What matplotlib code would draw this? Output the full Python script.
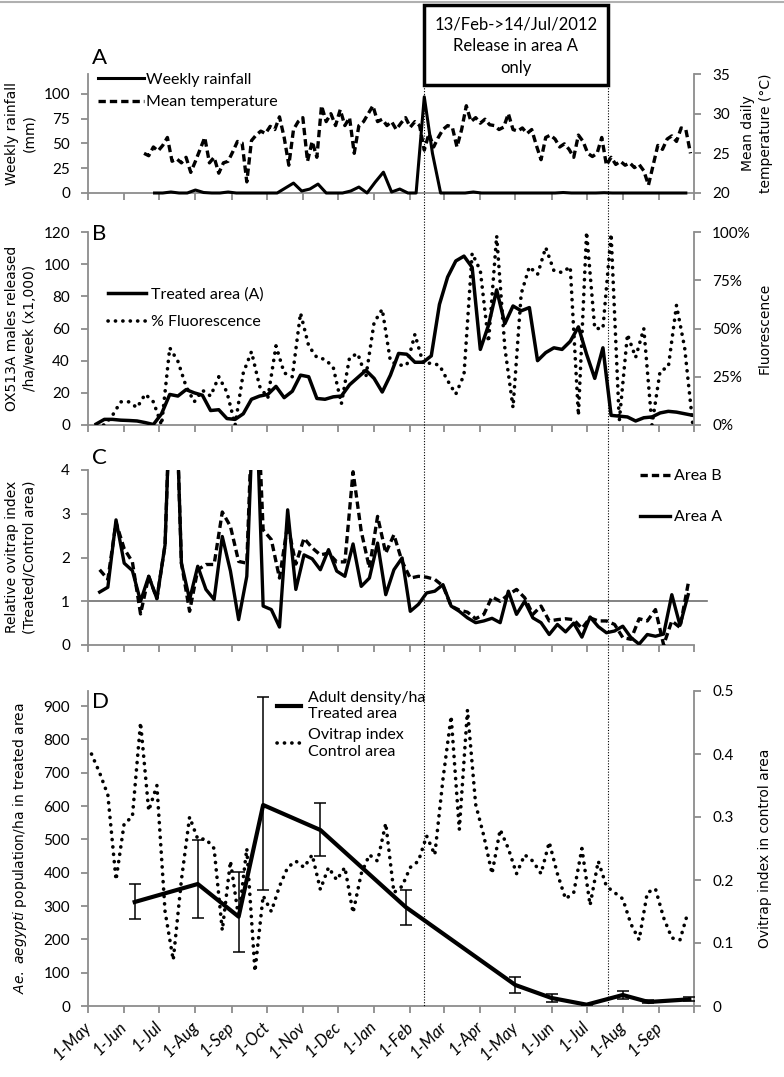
import numpy as np
import pandas as pd
import matplotlib
matplotlib.use('Agg')
import matplotlib.pyplot as plt
import matplotlib.dates as mdates
from matplotlib import transforms, font_manager
from matplotlib.lines import Line2D
from matplotlib.patches import Rectangle
from matplotlib.ticker import FixedLocator, FixedFormatter

# ---------------- data ----------------
month_ticks = pd.date_range('2011-05-01', '2012-10-01', freq='MS')
month_labels = ['1-May', '1-Jun', '1-Jul', '1-Aug', '1-Sep', '1-Oct', '1-Nov', '1-Dec', '1-Jan',
                '1-Feb', '1-Mar', '1-Apr', '1-May', '1-Jun', '1-Jul', '1-Aug', '1-Sep', '']

# A: weekly rainfall (mm) from 27 Jun 2011
rain_start = '2011-06-27'
rainfall = [0, 0, 1, 0, 0, 3, 0.5, 0, 0, 1, 0, 0, 0, 0, 0, 0, 5, 10, 2, 4,
            9, 0, 0, 0, 2, 6, 0, 11, 21, 1, 4, 0, 0, 97, 40, 0, 0, 0, 0, 1,
            0, 0, 0, 0, 0, 0, 0, 0, 0, 0, 0.5, 0, 0, 0, 0, 0.3, 0, 0, 0, 0,
            0, 0, 0, 0, 0, 0]

# A: mean daily temperature (C), read every 4 days from 18 Jun 2011
temp_start = '2011-06-18'
temperature = [25.0, 24.7, 25.8, 25.3, 26.0, 27.0, 24.0, 24.3, 23.8, 24.5,
               22.6, 24.0, 25.5, 27.0, 23.8, 24.5, 22.5, 23.8, 24.0, 25.2,
               26.5, 26.3, 21.4, 26.6, 27.3, 27.8, 27.5, 28.4, 28.0, 29.6,
               27.0, 23.5, 28.0, 29.0, 29.5, 24.0, 26.5, 24.5, 31.0, 29.0,
               30.0, 28.5, 30.5, 28.5, 29.5, 25.0, 28.5, 29.0, 30.0, 31.0,
               29.0, 29.3, 28.5, 29.0, 28.0, 28.8, 29.5, 28.3, 29.0, 28.5,
               25.4, 27.5, 25.8, 27.0, 28.0, 28.5, 28.3, 25.8, 28.0, 31.0,
               29.0, 29.5, 28.8, 29.3, 28.6, 28.5, 28.0, 28.3, 30.0, 28.0,
               27.8, 28.2, 27.5, 28.0, 26.0, 24.2, 27.0, 27.3, 26.8, 25.8,
               26.2, 25.5, 24.5, 27.3, 26.5, 25.0, 24.6, 25.0, 27.0, 23.5,
               24.5, 23.6, 24.0, 23.5, 23.8, 23.2, 23.6, 22.8, 21.0, 23.5,
               26.0, 25.5, 26.8, 27.2, 26.5, 28.2, 28.0, 25.0]

# B: weekly releases (x1000 /ha) and % fluorescence, from 8 May 2011
rel_start = '2011-05-08'
released = [0.6, 3.5, 3.5, 3.0, 2.8, 2.5, 1.5, 0.3, 7, 19,
            18, 22, 20, 18.5, 9, 9.5, 4, 3.5, 7, 16,
            18, 19, 24, 17, 21, 31, 30, 16.5, 16, 17.5,
            18, 25, 29.5, 34, 29, 20.5, 31, 44.5, 44, 39,
            39, 43, 75, 92, 102, 105, 98, 47, 62, 84,
            63, 74, 71, 73, 40, 45, 48, 47, 52, 61,
            44, 29, 48, 6, 5.5, 5, 2.5, 4.5, 5, 7.5,
            8.5, 8, 7, 6]
fluorescence = [0, 0, 5, 12, 12, 9, 16, 12, 0, 40,
                33, 20, 12, 18, 15, 25, 17, 0, 27, 38,
                20, 14, 41, 27, 25, 58, 41, 35, 34, 30,
                11, 35, 37, 25, 53, 60, 33, 31, 31, 47,
                32, 32, 31, 23, 16, 26, 89, 80, 43, 98,
                40, 9, 68, 82, 78, 92, 80, 79, 82, 5,
                100, 50, 50, 99, 2, 47, 35, 50, 0, 28,
                30, 62, 40, 0]

# C: relative ovitrap index, weekly from 11 May 2011
ovi_start = '2011-05-11'
area_a = [1.21, 1.32, 2.86, 1.87, 1.70, 1.0, 1.57, 1.06, 2.29, 7.8,
          1.87, 1.04, 1.80, 1.27, 1.04, 2.48, 1.69, 0.58, 1.57, 6.5,
          0.89, 0.81, 0.41, 3.09, 1.27, 2.06, 1.97, 1.72, 2.18, 1.69,
          1.57, 2.31, 1.34, 1.53, 2.33, 1.15, 1.72, 1.99, 0.77, 0.93,
          1.19, 1.23, 1.38, 0.89, 0.77, 0.62, 0.51, 0.55, 0.61, 0.51,
          1.23, 0.70, 1.0, 0.62, 0.51, 0.24, 0.47, 0.30, 0.50, 0.18,
          0.64, 0.42, 0.28, 0.32, 0.43, 0.17, 0.02, 0.24, 0.20, 0.25,
          1.15, 0.45, 1.15]
area_b = [1.72, 1.50, 2.80, 2.20, 1.90, 0.71, 1.57, 1.06, 2.29, 7.8,
          1.87, 0.77, 1.72, 1.84, 1.84, 3.04, 2.71, 1.91, 1.87, 7.0,
          2.63, 2.41, 1.53, 2.75, 1.85, 2.44, 2.22, 2.06, 2.10, 1.90,
          1.90, 3.96, 2.60, 1.76, 2.94, 2.10, 2.52, 1.91, 1.53, 1.57,
          1.55, 1.50, 1.35, 0.89, 0.80, 0.75, 0.60, 0.70, 1.10, 1.0,
          1.15, 1.27, 1.08, 0.70, 0.89, 0.55, 0.58, 0.60, 0.58, 0.38,
          0.62, 0.55, 0.55, 0.47, 0.17, 0.13, 0.60, 0.55, 0.81, 0.0,
          0.55, 0.40, 1.40]

# D: adult density /ha in treated area with error bars
adult_dates = ['2011-06-10', '2011-08-03', '2011-09-07', '2011-09-28', '2011-11-16', '2012-01-28',
               '2012-05-01', '2012-06-01', '2012-07-01', '2012-08-01', '2012-08-23', '2012-09-27']
adult = [312, 366, 268, 603, 528, 297, 63, 24, 4, 33, 12, 20]
adult_low = [262, 264, 162, 348, 450, 243, 40, 12, 2, 22, 8, 14]
adult_high = [366, 498, 402, 928, 610, 348, 87, 36, 7, 45, 17, 26]

# D: ovitrap index in control area, weekly from 4 May 2011
ctrl_start = '2011-05-04'
ctrl_index = [0.40, 0.37, 0.335, 0.20, 0.29, 0.30, 0.45, 0.31, 0.35, 0.15,
              0.073, 0.20, 0.30, 0.265, 0.265, 0.25, 0.12, 0.23, 0.14, 0.25,
              0.055, 0.175, 0.15, 0.19, 0.22, 0.23, 0.22, 0.24, 0.185, 0.22,
              0.20, 0.22, 0.148, 0.21, 0.24, 0.23, 0.29, 0.18, 0.19, 0.22,
              0.23, 0.27, 0.24, 0.36, 0.46, 0.28, 0.47, 0.32, 0.27, 0.21,
              0.28, 0.25, 0.21, 0.24, 0.23, 0.21, 0.26, 0.21, 0.17, 0.18,
              0.25, 0.16, 0.23, 0.19, 0.18, 0.17, 0.13, 0.105, 0.18, 0.186,
              0.14, 0.108, 0.105, 0.15]

# release period markers (where the lines sit on the figure) and box text
release_lines = ['2012-02-13', '2012-07-19']
box_text = '13/Feb->14/Jul/2012\nRelease in area A\nonly'

# ---------------- figure ----------------
have = {f.name for f in font_manager.fontManager.ttflist}
main_font = 'Lato' if 'Lato' in have else 'DejaVu Sans'
plt.rcParams['font.family'] = [main_font, 'DejaVu Sans']
label_font = 'DejaVu Sans'

W, H = 784, 1077
fig = plt.figure(figsize=(W / 100, H / 100), dpi=100)
grey = '#8c8c8c'


def px_axes(x0, y0, x1, y1):
    return fig.add_axes([x0 / W, 1 - y1 / H, (x1 - x0) / W, (y1 - y0) / H])


def style(ax, xlabels=False):
    ax.set_xlim(pd.Timestamp('2011-05-01'), pd.Timestamp('2012-10-01'))
    ax.xaxis.set_major_locator(FixedLocator(mdates.date2num(month_ticks)))
    ax.xaxis.set_major_formatter(FixedFormatter(month_labels))
    ax.spines['top'].set_visible(False)
    ax.spines['right'].set_visible(False)
    for s in ['left', 'bottom']:
        ax.spines[s].set_color(grey)
        ax.spines[s].set_linewidth(1.3)
    ax.tick_params(axis='both', direction='out', length=5, width=1.3, color=grey,
                   labelsize=11, pad=8)
    if not xlabels:
        ax.tick_params(axis='x', labelbottom=False)
    ax.patch.set_alpha(0)


def style_right(tw):
    for s in ['top', 'left', 'bottom']:
        tw.spines[s].set_visible(False)
    tw.spines['right'].set_color(grey)
    tw.spines['right'].set_linewidth(1.3)
    tw.tick_params(axis='y', direction='out', length=5, width=1.3, color=grey,
                   labelsize=11, pad=8)


dash = (0, (2.2, 1.2))
dots = (0, (0.05, 2.0))

# ---- A ----
axA = px_axes(88, 74, 694, 193)
style(axA)
rain_x = pd.date_range(rain_start, periods=len(rainfall), freq='7D')
temp_x = pd.date_range(temp_start, periods=len(temperature), freq='4D')
axA.set_ylim(0, 120)
axA.set_yticks([0, 25, 50, 75, 100])
l_rain, = axA.plot(rain_x, rainfall, color='black', lw=2.2, clip_on=False, zorder=3)
twA = axA.twinx()
style_right(twA)
twA.set_ylim(20, 35)
twA.set_yticks([20, 25, 30, 35])
l_temp, = twA.plot(temp_x, temperature, color='black', lw=2.4, ls=dash)
axA.legend([l_rain, l_temp], ['Weekly rainfall', 'Mean temperature'], loc='upper left',
           bbox_to_anchor=(0.0165, 1.01), frameon=False, fontsize=11.5, borderpad=0,
           borderaxespad=0, handlelength=2.9, handletextpad=0.1, labelspacing=0.5)

# ---- B ----
axB = px_axes(88, 232, 694, 425)
style(axB)
rel_x = pd.date_range(rel_start, periods=len(released), freq='7D')
axB.set_ylim(0, 120)
axB.set_yticks(range(0, 121, 20))
l_rel, = axB.plot(rel_x, released, color='black', lw=2.5, zorder=3)
twB = axB.twinx()
style_right(twB)
twB.set_ylim(0, 100)
twB.set_yticks([0, 25, 50, 75, 100])
twB.set_yticklabels(['0%', '25%', '50%', '75%', '100%'])
l_flu, = twB.plot(rel_x, fluorescence, color='black', lw=2.6, ls=dots,
                  dash_capstyle='round')
axB.legend([l_rel, l_flu], ['Treated area (A)', '% Fluorescence'], loc='upper left',
           bbox_to_anchor=(0.033, 0.715), frameon=False, fontsize=11.5, borderpad=0,
           borderaxespad=0, handlelength=2.4, handletextpad=0.3, labelspacing=0.85)

# ---- C ----
axC = px_axes(88, 470, 694, 645)
style(axC)
ovi_x = pd.date_range(ovi_start, periods=len(area_a), freq='7D')
axC.set_ylim(0, 4)
axC.set_yticks([0, 1, 2, 3, 4])
axC.axhline(1, xmin=0, xmax=1.021, color='#6e6e6e', lw=1.2, clip_on=False, zorder=1)
l_b, = axC.plot(ovi_x, area_b, color='black', lw=2.4, ls=dash, zorder=3)
l_a, = axC.plot(ovi_x, area_a, color='black', lw=2.4, zorder=3)
axC.legend([l_b, l_a], ['Area B', 'Area A'], loc='upper left',
           bbox_to_anchor=(0.911, 1.006), frameon=False, fontsize=11.5, borderpad=0,
           borderaxespad=0, handlelength=1.9, handletextpad=0.2, labelspacing=1.7)

# ---- D ----
axD = px_axes(88, 691, 694, 1006)
style(axD, xlabels=True)
axD.set_ylim(0, 945)
axD.set_yticks(range(0, 901, 100))
ad_x = pd.to_datetime(adult_dates)
ad = np.array(adult)
axD.errorbar(ad_x, ad, yerr=[ad - np.array(adult_low), np.array(adult_high) - ad],
             fmt='none', ecolor='black', elinewidth=1.1, capsize=4, capthick=1.1, zorder=4)
l_ad, = axD.plot(ad_x, ad, color='black', lw=3, zorder=5)
twD = axD.twinx()
style_right(twD)
twD.set_ylim(0, 0.5)
twD.set_yticks([0, 0.1, 0.2, 0.3, 0.4, 0.5])
twD.set_yticklabels(['0', '0.1', '0.2', '0.3', '0.4', '0.5'])
ctrl_x = pd.date_range(ctrl_start, periods=len(ctrl_index), freq='7D')
l_ctrl, = twD.plot(ctrl_x, ctrl_index, color='black', lw=2.6, ls=dots,
                   dash_capstyle='round')
axD.set_zorder(twD.get_zorder() + 1)
axD.legend([l_ad, l_ctrl], ['Adult density/ha\nTreated area', 'Ovitrap index\nControl area'],
           loc='upper left', bbox_to_anchor=(0.312, 1.0), frameon=False, fontsize=11.5,
           borderpad=0, borderaxespad=0, handlelength=1.5, handletextpad=0.45,
           labelspacing=0.45)
for t in axD.get_xticklabels():
    t.set_rotation(45)
    t.set_ha('right')
    t.set_va('center')
    t.set_rotation_mode('anchor')
    t.set_fontsize(12)
    t.set_fontstyle('italic')

# ---- axis titles ----
fig.text(21 / W, 1 - 133 / H, 'Weekly rainfall\n(mm)', rotation=90, ha='center', va='center',
         family=label_font, fontsize=10, linespacing=1.3)
fig.text(757 / W, 1 - 133 / H, 'Mean daily\ntemperature (\u00b0C)', rotation=90, ha='center',
         va='center', family=label_font, fontsize=10, linespacing=1.3)
fig.text(21 / W, 1 - 328 / H, 'OX513A males released\n/ha/week (x1,000)', rotation=90,
         ha='center', va='center', family=label_font, fontsize=10, linespacing=1.3)
fig.text(765 / W, 1 - 328 / H, 'Fluorescence', rotation=90, ha='center', va='center',
         family=label_font, fontsize=10)
fig.text(21 / W, 1 - 557 / H, 'Relative ovitrap index\n(Treated/Control area)', rotation=90,
         ha='center', va='center', family=label_font, fontsize=10, linespacing=1.3)
fig.text(20 / W, 1 - 848 / H, '$\\it{Ae.\\ aegypti}$ population/ha in treated area', rotation=90,
         ha='center', va='center', family=label_font, fontsize=10)
fig.text(765 / W, 1 - 848 / H, 'Ovitrap index in control area', rotation=90, ha='center',
         va='center', family=label_font, fontsize=10)

# panel letters
for letter, y in [('A', 58), ('B', 234), ('C', 458), ('D', 702)]:
    fig.text(92 / W, 1 - y / H, letter, ha='left', va='center', fontsize=16)

# ---- release period lines and box ----
trans = transforms.blended_transform_factory(axD.transData, fig.transFigure)
rx = [mdates.date2num(pd.Timestamp(d)) for d in release_lines]
for x in rx:
    fig.add_artist(Line2D([x, x], [1 - 85 / H, 1 - 1006 / H], transform=trans, color='black',
                          lw=0.8, ls=(0, (1, 1.5))))
fig.add_artist(Rectangle((rx[0], 1 - 85 / H), rx[1] - rx[0], 80 / H, transform=trans,
                         facecolor='white', edgecolor='black', lw=2.5))
fig.text((rx[0] + rx[1]) / 2, 1 - 46 / H, box_text, transform=trans, ha='center', va='center',
         fontsize=12, linespacing=1.45)

# thin grey line along the top edge
fig.add_artist(Line2D([0, 1], [1 - 1.5 / H, 1 - 1.5 / H], transform=fig.transFigure,
                      color='#b0b0b0', lw=1.5))

fig.savefig('out.png', dpi=100)
